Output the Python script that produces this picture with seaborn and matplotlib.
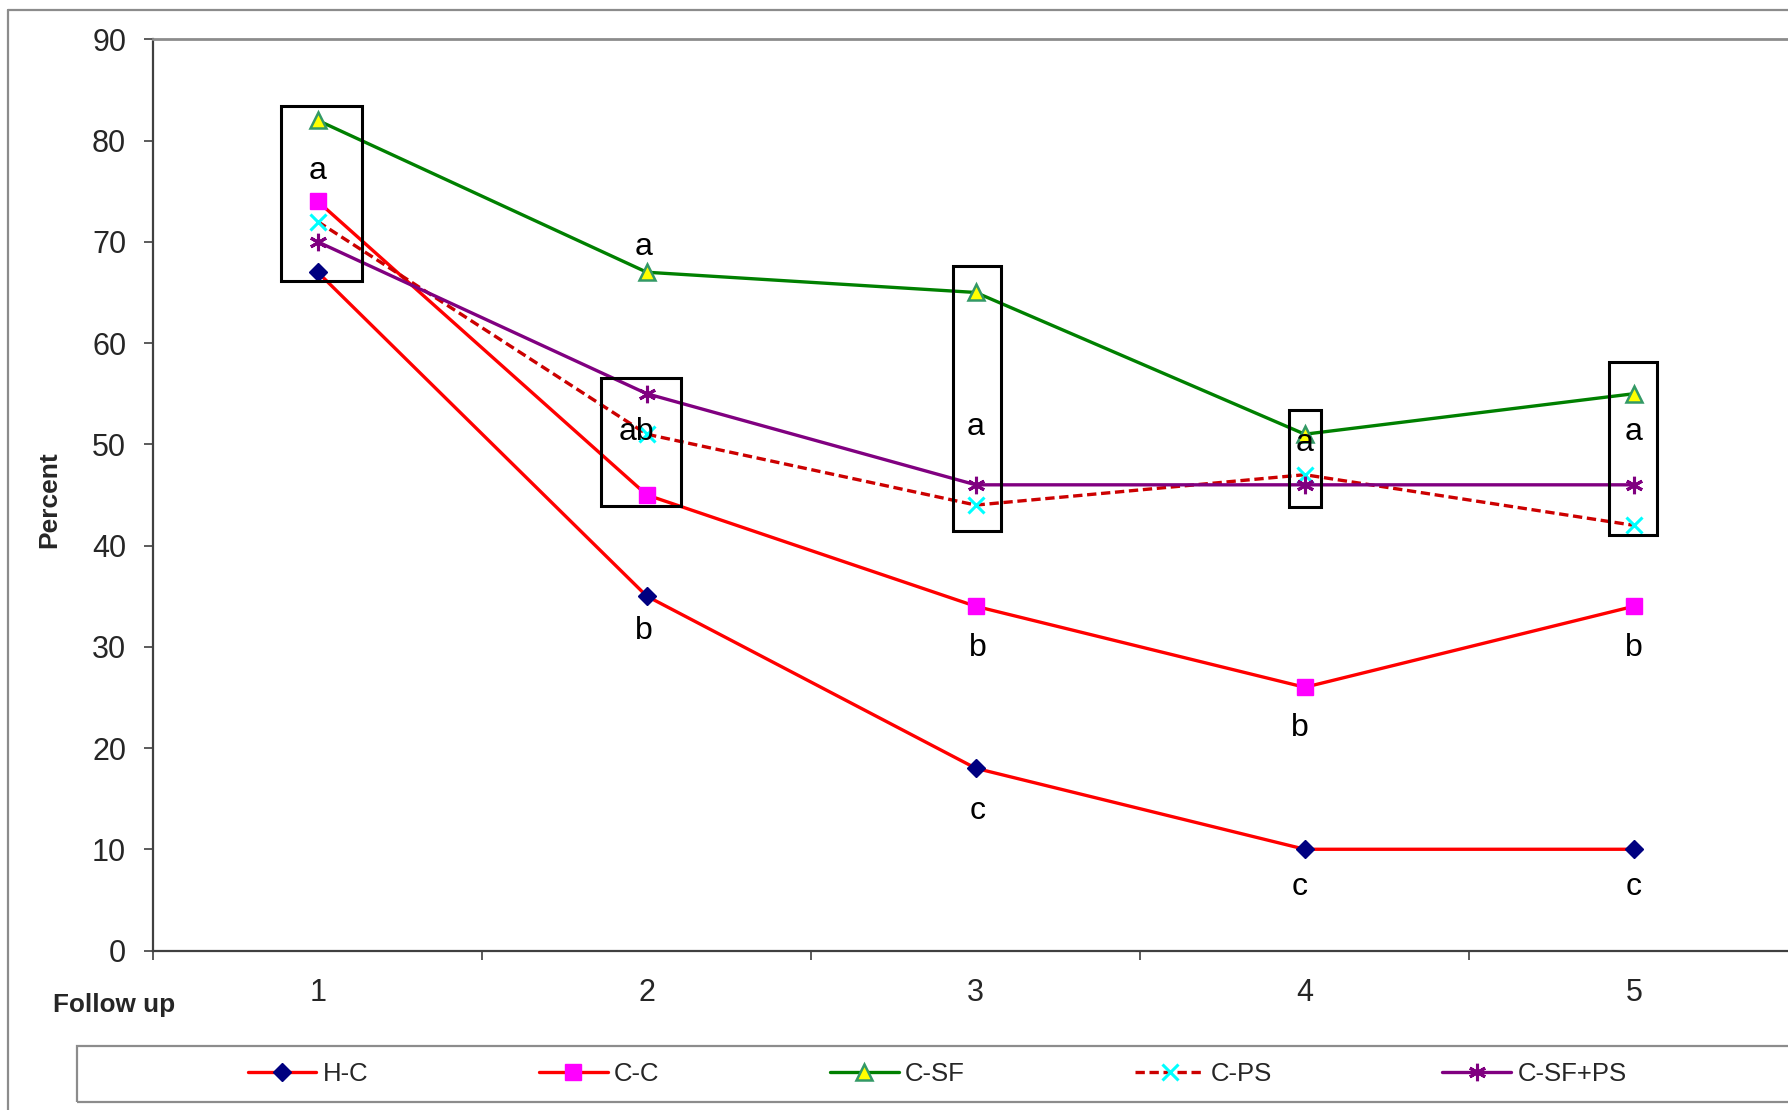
import numpy as np
import matplotlib
matplotlib.use("Agg")
import matplotlib.pyplot as plt
from matplotlib.patches import Rectangle
from matplotlib.lines import Line2D
import seaborn as sns

# ---- data -------------------------------------------------------------
follow_up = [1, 2, 3, 4, 5]
hc = [67, 35, 18, 10, 10]
cc = [74, 45, 34, 26, 34]
csf = [82, 67, 65, 51, 55]
cps = [72, 51, 44, 47, 42]
csf_ps = [70, 55, 46, 46, 46]
series_names = ["H-C", "C-C", "C-SF", "C-PS", "C-SF+PS"]
y_ticks = [0, 10, 20, 30, 40, 50, 60, 70, 80, 90]

# significance letters
letter_x = [1.0, 1.99, 1.97, 1.99, 3.0, 3.005, 3.005, 4.0, 3.985, 3.985, 5.0, 5.0, 5.0]
letter_y = [76.2, 68.7, 50.45, 30.8, 50.9, 29.1, 13.0, 49.35, 21.2, 5.5, 50.4, 29.1, 5.5]
letter_text = ["a", "a", "ab", "b", "a", "b", "c", "a", "b", "c", "a", "b", "c"]

# boxes grouping the treatments that share letter "a"
box_x0 = [0.887, 1.861, 2.930, 3.951, 4.924]
box_x1 = [1.133, 2.104, 3.077, 4.049, 5.071]
box_y0 = [66.1, 43.9, 41.4, 43.85, 41.0]
box_y1 = [83.4, 56.6, 67.65, 53.4, 58.15]

# ---- style ------------------------------------------------------------
sns.set_style("white")
plt.rcParams["font.family"] = ["Liberation Sans", "DejaVu Sans"]

W, H = 1788, 1110
fig = plt.figure(figsize=(W / 100, H / 100), dpi=100)

ax_left, ax_right = 153.3, 1798.3
ax_top, ax_bottom = 39.4, 950.5
ax = fig.add_axes([ax_left / W, 1 - ax_bottom / H,
                   (ax_right - ax_left) / W, (ax_bottom - ax_top) / H])

line_styles = [
    dict(color="#FF0000", marker="D", markersize=8.8, markerfacecolor="#000080",
         markeredgecolor="#000080", markeredgewidth=1, linestyle="-"),
    dict(color="#FF0000", marker="s", markersize=11.5, markerfacecolor="#FF00FF",
         markeredgecolor="#FF00FF", markeredgewidth=1, linestyle="-"),
    dict(color="#008000", marker="^", markersize=11.5, markerfacecolor="#FFFF00",
         markeredgecolor="#339966", markeredgewidth=1.8, linestyle="-"),
    dict(color="#CC0000", marker="x", markersize=11.5, markerfacecolor="#00FFFF",
         markeredgecolor="#00FFFF", markeredgewidth=2.2, linestyle=(0, (2.8, 1.4))),
    dict(color="#800080", marker=(6, 2, 0), markersize=12.5, markerfacecolor="#800080",
         markeredgecolor="#800080", markeredgewidth=2.2, linestyle="-"),
]

for vals, name, st in zip([hc, cc, csf, cps, csf_ps], series_names, line_styles):
    sns.lineplot(x=follow_up, y=vals, ax=ax, label=name, linewidth=2.4,
                 legend=False, **st)

# boxes and letters
for x0, x1, y0, y1 in zip(box_x0, box_x1, box_y0, box_y1):
    ax.add_patch(Rectangle((x0, y0), x1 - x0, y1 - y0, fill=False,
                           edgecolor="black", linewidth=2.2, zorder=5))
for lx, ly, lt in zip(letter_x, letter_y, letter_text):
    ax.text(lx, ly, lt, ha="center", va="baseline", fontsize=23,
            color="black", zorder=6)

# axes
ax.set_xlim(0.5, 5.5)
ax.set_ylim(0, 90)
ax.set_yticks(y_ticks)
ax.set_xticks(follow_up)
ax.set_xticks(np.arange(0.5, 6.0, 1.0), minor=True)
ax.set_xlabel("")
ax.set_ylabel("")
ax.tick_params(axis="y", direction="out", length=6.5, width=1.2,
               color="#404040", pad=13.0, labelsize=22, left=True)
ax.tick_params(axis="x", which="major", length=0, pad=20, labelsize=22)
ax.tick_params(axis="x", which="minor", direction="out", length=6.5,
               width=1.2, color="#404040", bottom=True)
for side in ("left", "bottom"):
    ax.spines[side].set_color("#404040")
    ax.spines[side].set_linewidth(1.6)
ax.spines["top"].set_color("#8C8C8C")
ax.spines["top"].set_linewidth(2)
ax.spines["right"].set_visible(False)

fig.text(49 / W, 1 - 500 / H, "Percent", rotation=90, ha="center",
         va="center", fontsize=19, fontweight="bold")
fig.text(53 / W, 1 - 1011.7 / H, "Follow up", ha="left", va="baseline",
         fontsize=18.8, fontweight="bold")

# legend
handles = ax.get_lines()[:5]
fig.legend(handles, series_names, loc="center left",
           bbox_to_anchor=(247.5 / W, 1 - 1074 / H), bbox_transform=fig.transFigure,
           ncol=5, frameon=False, fontsize=18.5, handlelength=2.68,
           handletextpad=0.24, columnspacing=6.64, borderpad=0, borderaxespad=0,
           numpoints=1)
fig.add_artist(Rectangle((76.7 / W, 1 - 1101.7 / H), (1800 - 76.7) / W, 56 / H,
                         transform=fig.transFigure, fill=False,
                         edgecolor="#8C8C8C", linewidth=1.6, clip_on=False))

# outer chart frame
fig.add_artist(Line2D([8.3 / W, 8.3 / W], [1 - 10 / H, 0], transform=fig.transFigure,
                      color="#8C8C8C", linewidth=1.6))
fig.add_artist(Line2D([8.3 / W, 1], [1 - 10 / H, 1 - 10 / H], transform=fig.transFigure,
                      color="#8C8C8C", linewidth=1.6))

fig.savefig("out.png", dpi=100)
